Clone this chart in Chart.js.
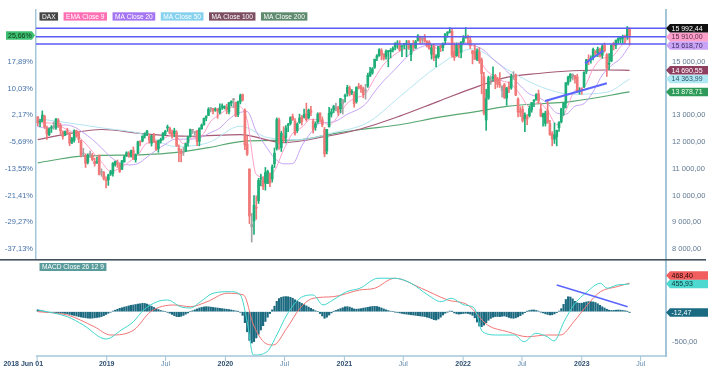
<!DOCTYPE html>
<html><head><meta charset="utf-8">
<script src="https://cdn.jsdelivr.net/npm/chart.js@4/dist/chart.umd.min.js"></script>
<style>
html,body{margin:0;padding:0;background:#fff;width:715px;height:384px;overflow:hidden;}
#c1{position:absolute;left:0;top:0;}
#c2{position:absolute;left:0;top:259px;}
</style></head><body>
<canvas id="c1" width="715" height="259"></canvas>
<canvas id="c2" width="715" height="125"></canvas>
<script>
// ---------- DATA ----------
const firstWeek = '2018-06-03';           // weekly candles
const opens = [12940,12750,12790,12960,12530,12280,12520,12570,12530,12830,12620,12390,12260,12420,12330,11990,12070,12420,12320,12050,11580,11500,11250,11530,11480,11280,11220,11510,10870,10860,10580,
10580,10800,10830,11150,11230,11190,10980,11260,11480,11590,11470,11690,11340,11580,12010,12040,12230,12330,12220,11960,12270,12040,11760,12040,12110,12300,12530,12520,12370,12320,12350,11780,11620,11620,11670,11970,12200,12440,12360,12430,12030,12500,12640,12900,13000,13250,13260,13200,13240,13100,13310,13280,
13310,13130,13460,13580,13490,13030,13520,13780,13190,11930,10990,8830,9050,9560,9800,10620,10580,10460,10450,10820,10620,11190,11770,12830,11790,12230,12170,12620,12700,12960,12790,12430,12740,12950,12940,13060,12910,13180,12790,12550,12750,13090,12840,12470,11670,12570,13050,13200,13280,13290,13240,13440,13710,
13830,14030,13850,13780,13520,14090,14100,14000,13930,14100,14470,14590,14800,15150,15240,15430,15300,15210,15390,15390,15450,15560,15670,15690,15570,15640,15670,15790,15290,15650,15520,15810,15950,15880,15920,15770,15740,15290,15610,15160,15200,15600,15540,15800,16070,16110,16150,15400,15240,15650,15360,15750,
15900,15930,15820,15420,15400,15100,15360,15080,14450,12830,13650,14300,14380,14500,14370,14170,13930,14150,13650,14080,14030,14460,14520,13610,13170,13230,12880,12940,12990,13210,13530,13580,13810,13240,12940,12700,13180,12690,12320,12110,12200,12540,12760,13270,13460,14200,14400,14450,14480,14440,13880,13990,
14070,14650,15100,15080,15190,15400,15350,15480,15250,15620,15280,14920,15040,15690,15630,15810,15860,15890,15930,15930,16230];
const highs = [12960,12850,13170,13010,12600,12530,12620,12760,12890,12880,12700,12420,12420,12520,12370,12180,12460,12450,12400,12080,11770,11560,11560,11660,11580,11400,11440,11520,11000,10900,10700,
10800,10950,11230,11290,11330,11200,11320,11500,11640,11640,11700,11820,11560,12040,12050,12240,12350,12440,12300,12260,12330,12050,12080,12150,12360,12440,12640,12560,12450,12520,12430,11900,11740,11800,11960,12230,12490,12480,12400,12440,12540,12680,12900,12990,13290,13300,13270,13290,13260,13430,13430,13360,
13420,13490,13550,13640,13500,13540,13800,13800,13250,12230,11000,9330,10000,9990,10640,10800,10700,11050,10950,10850,11150,11780,12910,12900,12410,12580,12620,12700,12950,13050,12880,12720,13050,13000,13240,13460,13240,13340,12860,12760,13100,13100,12940,12550,12480,13300,13250,13380,13460,13340,13640,13600,13800,
14130,14100,13970,13890,14070,14200,14140,14060,14160,14580,14800,14790,15110,15280,15500,15500,15310,15460,15430,15500,15570,15730,15800,15800,15620,15700,15810,15800,15700,15810,15810,16030,15970,15950,16030,15800,15800,15650,15660,15280,15590,15640,15720,16060,16140,16290,16220,15720,15720,15720,15760,15990,
16290,16010,15970,15440,15650,15490,15540,15150,14610,13980,14470,14480,14820,14540,14430,14600,14110,14200,14050,14260,14550,14640,14550,13660,13320,13340,13100,13030,13360,13490,13590,13810,13950,13430,13090,13160,13570,12820,12390,12720,12450,12770,13270,13490,14230,14470,14570,14560,14500,14540,14040,14030,
14640,15100,15270,15230,15520,15430,15560,15520,15660,15710,15320,15320,15660,15740,15830,15910,15930,16010,16010,16330,16280];
const lows = [12605,12580,12760,12510,12100,12240,12360,12480,12480,12550,12300,12110,12240,12300,11870,11940,12000,12180,11980,11450,11460,11050,11180,11430,11300,11100,11200,10770,10720,10580,10280,
10380,10750,10720,11100,11050,10860,10980,11250,11460,11430,11440,11350,11250,11560,11860,12010,12150,12240,11960,11850,11990,11690,11620,11960,12070,12250,12400,12300,12150,12200,11830,11270,11260,11500,11640,11850,12180,12320,12260,11870,11860,12480,12640,12800,12990,13130,13060,13150,12890,13060,13220,13240,
13060,13060,13350,13290,12950,12950,13430,13540,11720,11500,8950,8256,8540,9110,9700,10360,10220,10200,10450,10330,10500,11050,11700,11730,11650,11980,11970,12390,12640,12810,12260,12360,12700,12640,12900,12780,12870,12990,12340,12440,12700,12750,12570,11450,11560,12570,12940,13100,13170,13000,13100,13050,13500,
13720,13730,13780,13310,13460,13990,13860,13660,13610,14050,14460,14540,14760,15050,15210,15080,15070,15110,14820,15150,15380,15450,15510,15420,15200,15500,15200,15470,15050,15430,15510,15780,15700,15720,15740,15560,15480,15110,15050,14820,15140,15390,15420,15650,15930,16090,15180,15060,15210,15170,15150,15700,
15900,15680,15500,14930,15100,15050,14950,13810,13020,12440,13600,14160,14290,14000,14050,14050,13680,13630,13380,13850,13980,14350,13740,12940,12960,12750,12390,12650,12940,13120,13330,13580,13450,12950,12600,12600,12700,12250,11860,11950,11860,12400,12720,13000,13280,14130,14270,14330,14210,13850,13790,13790,
14040,14560,14900,14960,15080,15200,15200,15180,15140,15370,14460,14710,15010,15450,15500,15700,15700,15700,15690,15850,15630];
const closes = [12724,12767,13011,12580,12306,12496,12541,12561,12860,12616,12424,12211,12394,12364,11960,12124,12431,12247,12111,11524,11554,11201,11519,11529,11342,11193,11257,10788,10866,10634,10559,
10767,10888,11205,11282,11181,10906,11300,11458,11602,11458,11686,11364,11526,12010,11999,12222,12315,12413,12060,12239,12011,11727,12045,12096,12340,12399,12568,12323,12260,12419,11872,11694,11563,11612,11939,12191,12469,12468,12380,12013,12512,12634,12895,12961,13229,13242,13164,13236,13166,13283,13319,13337,
13219,13483,13526,13577,12982,13514,13745,13579,11890,11542,9232,8929,9633,9525,10565,10626,10336,10861,10904,10465,11074,11587,12848,11949,12331,12089,12528,12633,12920,12838,12313,12675,12901,12765,13033,12842,13202,13116,12469,12689,13051,12909,12646,11556,12480,13077,13137,13335,13298,13114,13631,13587,13719,
14050,13788,13874,13433,14057,14050,13993,13786,13920,14502,14621,14749,15107,15234,15460,15280,15136,15400,15417,15437,15520,15693,15693,15448,15608,15650,15688,15540,15669,15544,15761,15977,15808,15852,15781,15609,15490,15531,15156,15206,15587,15543,15689,16054,16094,16160,15257,15169,15623,15532,15756,15885,
15948,15883,15603,15318,15100,15425,15042,14567,13095,13628,14413,14306,14446,14284,14164,14142,14098,13675,14027,13982,14462,14460,13762,13126,13118,12813,13015,12864,13254,13484,13573,13795,13544,12972,13050,13088,12741,12284,12114,12273,12438,12731,13243,13460,14224,14431,14541,14529,14371,13893,13941,13924,
14610,15087,15034,15150,15476,15308,15482,15210,15578,15428,14768,14957,15629,15598,15808,15882,15922,15961,15914,16275,15992.44];

const maStep = 4; // EMA9 / MA20 read every 4th week
const ema9 = [12721,12718,12682,12503,12334,12040,11648,11257,10904,11020,11254,11515,11962,12002,12172,12287,11945,12149,12237,12775,13040,13266,13354,12826,10787,10687,10922,11709,12331,12551,12854,12836,12644,12982,13457,13660,13814,14396,14908,15230,15447,15558,15699,15669,15498,15735,15604,15729,15538,14818,14488,14292,14180,13774,13329,13494,13168,12653,13180,13936,14065,14749,15140,15190,15568,15910];
const ma20 = [12580,12530,12593,12645,12569,12354,12101,11783,11443,11228,11147,11197,11439,11698,11914,12101,12109,12115,12190,12362,12526,12857,13084,13145,12394,11871,11405,11186,11194,11861,12351,12705,12732,12831,13047,13195,13427,13888,14299,14638,15003,15343,15549,15630,15615,15662,15645,15646,15605,15437,15108,14832,14483,14111,13802,13682,13441,13089,13048,13344,13443,13888,14511,14868,15135,15618.7];
const ma50Weeks = [0,13,28,47,60,75,89,101,115,130,145,159,176,191,206,220,235,250,260];
const ma50 = [12880,12725,12536,12283,11840,11981,12596,12170,12094,12358,12736,13698,14860,15490,14736,14106,13792,13868,14363.99];
const ma100Weeks = [0,13,28,47,67,89,108,127,141,159,176,194,206,220,235,250,260];
const ma100 = [12094,12309,12472,12309,12219,12283,11981,12219,12472,12974,13528,14106,14423,14570,14672,14700,14690.55];
const ma200Weeks = [0,18,28,47,60,75,90,115,130,142,159,176,194,206,235,260];
const ma200 = [11226,11464,11500,11528,11604,11792,12030,12094,12321,12472,12650,12925,13162,13340,13528,13878.71];

const macdHist = [30,25,15,5,
-5,-10,-12,-15,-18,-20,-22,-25,-28,
-35,-45,-55,-62,
-70,-80,-88,-95,-100,-105,-108,-105,-100,-95,-90,-80,-65,-45,
-25,-8,
10,25,40,55,65,75,85,95,105,110,118,125,130,137,135,125,110,90,70,
50,35,20,10,0,
-10,-25,-45,-65,-80,-82,-75,-60,-40,-20,
0,15,30,45,60,70,78,82,80,75,70,65,60,55,50,45,40,35,28,20,12,5,
-10,-60,
-180,-330,-470,-513,-490,-430,-370,-300,-230,-160,-90,-30,
30,90,170,215,235,245,248,245,235,220,195,175,155,135,115,95,75,55,35,15,0,
-30,-70,-108,-90,-55,-20,5,
20,35,50,65,80,82,75,60,45,40,45,50,58,65,72,80,85,88,85,75,60,45,30,18,8,0,
-5,-12,-20,-28,-35,-40,-45,-50,-55,-60,-65,-70,-75,-80,-90,-100,-115,-130,-136,-120,-90,-55,-25,-5,10,5,-20,-35,-40,-35,-30,-25,-30,-40,
-60,-100,-170,-235,-246,-220,-180,-140,-110,-90,-80,-78,-82,-75,-70,-80,-95,-105,-108,-100,-85,-65,-40,-15,5,20,28,28,20,10,-5,-20,-35,-45,-54,-50,-35,-15,10,
50,120,200,245,240,210,170,145,137,140,150,160,165,164,160,150,130,105,80,60,40,
25,20,22,25,28,25,20,15,5,-12.47];
const macdWeeks = [0,13,20,30,36.7,42,46.5,52.5,57,62.7,67,71.5,77,84.6,89,92,94.7,100.7,105,109.4,115.2,121,125.3,129.7,135.7,141.5,149.5,156.8,164,171.4,177.2,181.6,187.4,191.8,195.4,202,209.3,213.7,218.8,223.8,226.8,231.2,235.5,241.4,247.2,250.1,254.5,258.9,260];
const macdLine = [28,-82,-218,-448,-300,-164,28,164,192,82,61,164,302,328,274,-164,-710,-656,-382,-54,220,274,110,192,328,384,548,548,466,274,164,220,110,56,-328,-382,-382,-492,-354,-410,-480,-164,110,328,466,384,438,449,455.93];
const signalWeeks = [0,13,24.8,32,42.2,49.6,59.8,67.1,74.4,83.2,90.4,94.8,99.2,103.5,109.4,115.2,121,129.8,141.5,148,156.8,168.5,180.1,188.9,197.6,206.4,215.1,223.8,229.7,235.5,241.4,247.2,254.5,260];
const signalLine = [0,-54,-246,-382,-300,0,110,82,164,302,274,-218,-492,-546,-272,56,220,246,356,384,548,384,192,110,-218,-328,-410,-382,-382,-164,110,328,410,468.4];

const seriesNames = ['DAX','EMA Close 9','MA Close 20','MA Close 50','MA Close 100','MA Close 200'];
const lastValues = [15992.44,15910.00,15618.70,14363.99,14690.55,13878.71];
const lastChangePct = '25,66%';
const macdName = 'MACD Close 26 12 9';
const macdLast = {signal:468.40, macd:455.93, hist:-12.47};
const priceTicks = [8000,9000,10000,11000,12000,13000,14000,15000,16000];
const macdTicks = [-500,0,500];
const levels = [16262,15948,15674];
const trendA = {dates:['2022-09-10','2023-03-19'], vals:[13539,14202]};
const trendB = {dates:['2023-01-11','2023-03-08'], vals:[14951,15423]};
const trendM = {dates:['2022-10-16','2023-05-22'], vals:[438,82]};
const xTickDates = ['2018-06-01','2019-01-01','2019-07-01','2020-01-01','2020-07-01','2021-01-01','2021-07-01','2022-01-01','2022-07-01','2023-01-01','2023-07-01'];
const xTickLabels = ['2018 Jun 01','2019','Jul','2020','Jul','2021','Jul','2022','Jul','2023','Jul'];

// ---------- STYLE ----------
const FONT = '"Liberation Sans", Arial, sans-serif';
const C = {
  up:'#1eae78', down:'#f07878', flat:'#a3a3a3',
  legendBg:['#454545','#ff6fb4','#a676f2','#86d2ee','#7d4d60','#5e8a6e'],
  line:['#000','#ff9fca','#c5a4f4','#b4e4f1','#a55a78','#58a872'],
  tagBg:['#111111','#ff9fcc','#c9a3f5','#b0e8f4','#8e3f60','#2f9a5a'],
  tagFg:['#ffffff','#5a2a42','#3e2c66','#2f5466','#ffffff','#eaffea'],
  level:'#5b5bf5', trend:'#5a66ff', axis:'#a3c6d8',
  macd:'#3fd6cc', signal:'#f27474', hist:'#1b6a80',
  macdLabel:'#5a9c9c'
};

// ---------- HELPERS ----------
const ORIGIN = Date.UTC(2018,5,1);
function dayOf(s){const p=s.split('-').map(Number);return (Date.UTC(p[0],p[1]-1,p[2])-ORIGIN)/864e5;}
const W0 = dayOf(firstWeek);
const wx = i => W0 + 7*i;
const X_MIN = -3.4, X_MAX = 1934;
function fmt(v){const neg=v<0;v=Math.abs(v);let [a,b]=v.toFixed(2).split('.');a=a.replace(/\B(?=(\d{3})+(?!\d))/g,' ');return (neg?'-':'')+a+','+b;}
const BASE = closes[0];
const near = (v, arr, th) => arr.some(t=>Math.abs(t-v)<th);
function stackTags(tags, scale, gap){
  tags.forEach(t=>t.y=scale.getPixelForValue(t.v));
  tags.sort((a,b)=>b.y-a.y);
  for(let k=1;k<tags.length;k++){ if(tags[k-1].y-tags[k].y<gap) tags[k].y=tags[k-1].y-gap; }
}
function drawTag(ctx, edge, y, text, bg, fg, dir, w){
  const h=8.6, a=dir>0?4:3; w = w||38;
  ctx.beginPath();
  ctx.moveTo(edge,y);
  ctx.lineTo(edge+dir*a,y-h/2); ctx.lineTo(edge+dir*(a+w),y-h/2);
  ctx.lineTo(edge+dir*(a+w),y+h/2); ctx.lineTo(edge+dir*a,y+h/2);
  ctx.closePath(); ctx.fillStyle=bg; ctx.fill();
  ctx.fillStyle=fg; ctx.font='7px '+FONT; ctx.textBaseline='middle';
  ctx.textAlign='left';
  ctx.fillText(text, dir>0 ? edge+a+1.5 : edge-a-w+2, y+0.5);
}
const line = (xs, ys, color, width, order, mapX) => ({
  type:'line', data: ys.map((v,k)=>({x:mapX(xs[k],k), y:v})),
  borderColor:color, borderWidth:width, pointRadius:0, order,
  cubicInterpolationMode:'monotone', fill:false
});

// candle colours
const candleColors = closes.map((c,i)=>{
  const o=opens[i], p=i?closes[i-1]:o;
  if(c>=o && c>=p) return C.up;
  if(c<o && c<p) return C.down;
  return C.flat;
});

// ---------- MAIN CHART ----------
const mainDecor = {
  id:'mainDecor',
  afterDatasetsDraw(chart){
    const {ctx, chartArea:ca, scales:{y}} = chart;
    ctx.save();
    ctx.strokeStyle=C.level; ctx.lineWidth=1.5;
    levels.forEach(v=>{const py=y.getPixelForValue(v);ctx.beginPath();ctx.moveTo(ca.left,py);ctx.lineTo(ca.right,py);ctx.stroke();});
    ctx.restore();
  },
  afterDraw(chart){
    const {ctx, chartArea:ca, scales:{y}} = chart;
    ctx.save();
    // legend chips
    ctx.font='6.6px '+FONT; ctx.textBaseline='middle'; ctx.textAlign='left';
    let lx = 39.5; const ly=12.3, lh=8.3;
    seriesNames.forEach((n,k)=>{
      const w = ctx.measureText(n).width+5;
      ctx.fillStyle=C.legendBg[k]; ctx.fillRect(lx,ly,w,lh);
      ctx.fillStyle='#ffffff'; ctx.fillText(n,lx+2.5,ly+lh/2+0.5);
      lx += w+5.5;
    });
    // right value tags
    const tags = lastValues.map((v,k)=>({v, k}));
    stackTags(tags, y, 8.6);
    tags.forEach(t=>drawTag(ctx, ca.right, t.y, fmt(t.v), C.tagBg[t.k], C.tagFg[t.k], 1));
    // left percent tag
    drawTag(ctx, ca.left-1, y.getPixelForValue(lastValues[0]), lastChangePct, '#3cc070', '#0d3018', -1, 26);
    ctx.restore();
  }
};

new Chart(document.getElementById('c1'), {
  type:'bar',
  data:{datasets:[
    line(trendA.dates, trendA.vals, C.trend, 2, -2, d=>dayOf(d)),
    line(trendB.dates, trendB.vals, C.trend, 2, -2, d=>dayOf(d)),
    {type:'bar', data: closes.map((c,i)=>({x:wx(i), y:[lows[i],highs[i]]})), backgroundColor:candleColors, barThickness:1, grouped:false, order:1},
    {type:'bar', data: closes.map((c,i)=>({x:wx(i), y:[opens[i],c]})), backgroundColor:candleColors, barThickness:2, grouped:false, minBarLength:1, order:0},
    line(ema9, ema9, C.line[1], 1, 5, (x,k)=>wx(k*maStep)),
    line(ma20, ma20, C.line[2], 1, 6, (x,k)=>wx(k*maStep)),
    line(ma50Weeks, ma50, C.line[3], 1, 7, w=>wx(w)),
    line(ma100Weeks, ma100, C.line[4], 1.2, 8, w=>wx(w)),
    line(ma200Weeks, ma200, C.line[5], 1.2, 9, w=>wx(w))
  ]},
  options:{
    responsive:false, animation:false, events:[],
    layout:{padding:{top:10,bottom:1,left:0,right:0}},
    plugins:{legend:{display:false}, tooltip:{enabled:false}},
    scales:{
      x:{type:'linear', min:X_MIN, max:X_MAX, display:false, offset:false},
      y:{type:'linear', position:'right', min:7660, max:16948,
         grid:{drawOnChartArea:false, drawTicks:false},
         border:{display:true, color:C.axis, width:2},
         afterBuildTicks:s=>{s.ticks=priceTicks.map(v=>({value:v}));},
         afterFit:s=>{s.width=49; s.paddingTop=0; s.paddingBottom=0;},
         ticks:{autoSkip:false, padding:6, color:'#5f7890', font:{family:FONT,size:7.5},
           callback:v=>near(v,lastValues,300)?'':fmt(v)}},
      yPct:{type:'linear', position:'left', min:7660, max:16948,
         grid:{drawOnChartArea:false, drawTicks:false},
         border:{display:true, color:C.axis, width:1.5},
         afterBuildTicks:s=>{s.ticks=priceTicks.map(v=>({value:v}));},
         afterFit:s=>{s.width=36; s.paddingTop=0; s.paddingBottom=0;},
         ticks:{autoSkip:false, padding:3, color:'#4470a8', font:{family:FONT,size:7.5},
           callback:v=>near(v,[lastValues[0]],300)?'':((v/BASE-1)*100).toFixed(2).replace('.',',')+'%'}}
    }
  },
  plugins:[mainDecor]
});

// ---------- MACD CHART ----------
const macdDecor = {
  id:'macdDecor',
  afterDraw(chart){
    const {ctx, chartArea:ca, scales:{x,y}} = chart;
    ctx.save();
    // panel separator
    ctx.fillStyle='#44525e'; ctx.fillRect(0,0,706,1.6);
    // label
    ctx.font='6.6px '+FONT; ctx.textBaseline='middle'; ctx.textAlign='left';
    const w = ctx.measureText(macdName).width+5;
    ctx.fillStyle=C.macdLabel; ctx.fillRect(39.5,4,w,8);
    ctx.fillStyle='#ffffff'; ctx.fillText(macdName,42,8.4);
    // x axis
    const base = ca.bottom;
    ctx.strokeStyle=C.axis; ctx.lineWidth=1.5;
    ctx.beginPath(); ctx.moveTo(ca.left,base); ctx.lineTo(ca.right,base); ctx.stroke();
    xTickDates.forEach((d,k)=>{
      const px = x.getPixelForValue(dayOf(d));
      ctx.lineWidth=1; ctx.beginPath(); ctx.moveTo(px,base); ctx.lineTo(px,base+5); ctx.stroke();
      const lab = xTickLabels[k], bold = lab!=='Jul';
      ctx.font=(bold?'bold ':'')+'7px '+FONT;
      ctx.fillStyle=bold?'#2d4e70':'#5d87ad';
      ctx.textAlign = k===0?'right':'center';
      ctx.fillText(lab, k===0?px+6:px, base+8.5);
    });
    // tags
    const tags=[{v:macdLast.signal,bg:'#f25d5d',fg:'#2a0a0a'},{v:macdLast.macd,bg:'#4dd8d0',fg:'#0b3533'},{v:macdLast.hist,bg:'#1a6b82',fg:'#ffffff'}];
    stackTags(tags, y, 8.4);
    tags.forEach(t=>drawTag(ctx, ca.right, t.y, fmt(t.v), t.bg, t.fg, 1));
    ctx.restore();
  }
};

new Chart(document.getElementById('c2'), {
  type:'bar',
  data:{datasets:[
    line(trendM.dates, trendM.vals, C.trend, 1.5, -2, d=>dayOf(d)),
    line(macdWeeks, macdLine, C.macd, 1, 1, w=>wx(w)),
    line(signalWeeks, signalLine, C.signal, 1, 2, w=>wx(w)),
    {type:'bar', data: macdHist.map((v,i)=>({x:wx(i), y:v})), backgroundColor:C.hist, barThickness:1.5, grouped:false, order:3}
  ]},
  options:{
    responsive:false, animation:false, events:[],
    layout:{padding:{top:1,bottom:28,left:36,right:0}},
    plugins:{legend:{display:false}, tooltip:{enabled:false}},
    scales:{
      x:{type:'linear', min:X_MIN, max:X_MAX, display:false, offset:false},
      y:{type:'linear', position:'right', min:-726, max:847,
         grid:{drawOnChartArea:false, drawTicks:false},
         border:{display:true, color:C.axis, width:2},
         afterBuildTicks:s=>{s.ticks=macdTicks.map(v=>({value:v}));},
         afterFit:s=>{s.width=49; s.paddingTop=0; s.paddingBottom=0;},
         ticks:{autoSkip:false, padding:6, color:'#5f7890', font:{family:FONT,size:7.5},
           callback:v=>near(v,[macdLast.signal,macdLast.macd,macdLast.hist],131)?'':fmt(v)}}
    }
  },
  plugins:[macdDecor]
});
</script>
</body></html>
